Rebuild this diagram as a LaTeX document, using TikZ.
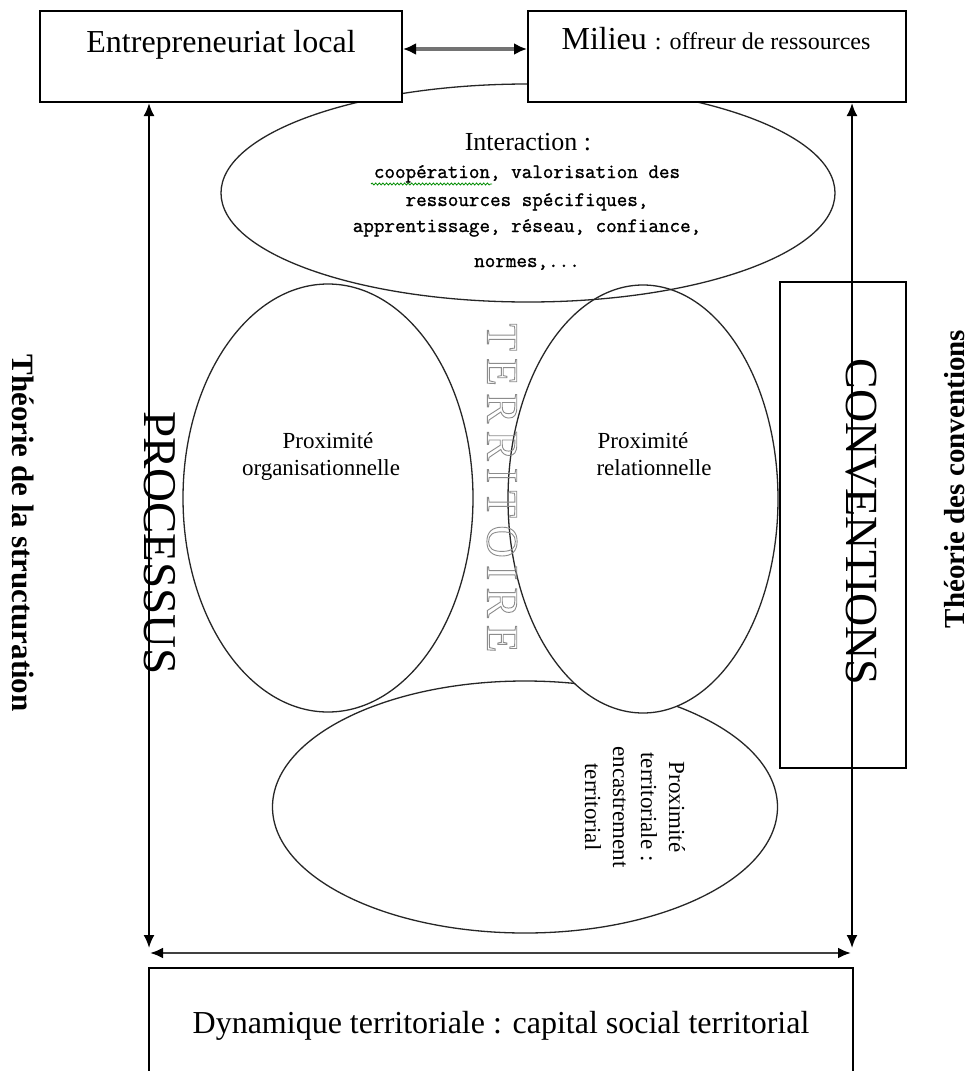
\documentclass[tikz,border=0pt]{standalone}
\usepackage{fontspec}
\setmainfont{Liberation Serif}
\newfontfamily\listfont[FakeBold=1.2]{Latin Modern Mono}
\usetikzlibrary{arrows.meta,shapes.geometric,decorations.pathmorphing}
\newcommand{\myfs}[1]{\fontsize{#1}{#1}\selectfont}
\newcommand{\myfsb}[2]{\fontsize{#1}{#2}\selectfont}
\newcommand{\terrword}{T\kern7.4pt E\kern7.4pt R\kern7.4pt R\kern7.4pt I\kern7.4pt T\kern7.4pt O\kern7.4pt I\kern7.4pt R\kern7.4pt E}
\tikzset{
  boxnode/.style={draw=black, line width=2pt, fill=white, inner sep=0pt},
  openbox/.style={draw=black, line width=1.4pt, inner sep=0pt},
  ell/.style={ellipse, draw=black!85, line width=1.3pt, inner sep=0pt},
  varrow/.style={draw=black, line width=2pt, {Latex[length=13pt,width=11pt]}-{Latex[length=13pt,width=11pt]}},
  harrow/.style={draw=black!75, line width=2.4pt, {Latex[length=13pt,width=11pt,color=black]}-{Latex[length=13pt,width=11pt,color=black]}},
  tarrow/.style={draw=black!55, line width=3.2pt, {Latex[length=13pt,width=12pt,color=black]}-{Latex[length=13pt,width=12pt,color=black]}},
  txt/.style={inner sep=0pt, anchor=base},
  listtxt/.style={inner sep=0pt, anchor=base, font=\listfont\myfs{20.5}},
}
\begin{document}
\begin{tikzpicture}[x=1pt,y=-1pt]
\clip (0,0) rectangle (971,1071);
\fill[white] (0,0) rectangle (971,1071);
% ellipses
\node[ell, minimum width=505pt, minimum height=252pt] (pterr) at (525,807) {};
\node[ell, minimum width=290pt, minimum height=428pt] (porg) at (328,498) {};
\node[ell, fill=white, minimum width=270pt, minimum height=428pt] (prel) at (643,499) {};
\node[ell, minimum width=614pt, minimum height=218pt] (inter) at (528,193) {};
% top boxes
\node[boxnode, minimum width=362pt, minimum height=91pt] (ent) at (221,56.5) {};
\node[boxnode, minimum width=378pt, minimum height=91pt] (mil) at (717,56.5) {};
% arrows
\coordinate (pl) at (149,948);
\coordinate (pr) at (852,948);
\coordinate (hl) at (150,953);
\coordinate (hr) at (851,953);
\draw[varrow] (ent.south -| pl) -- (pl);
\draw[varrow] (mil.south -| pr) -- (pr);
\draw[harrow] (hl) -- (hr);
\draw[tarrow] ([yshift=7.5pt]ent.east) -- ([yshift=7.5pt]mil.west);
% conventions box and bottom box
\node[openbox, minimum width=126pt, minimum height=486pt] (conv) at (843,525) {};
\node[boxnode, minimum width=704pt, minimum height=120pt] (dyn) at (501,1028) {};
% texts
\node[txt, font=\myfs{32}] (entT) at (221,52) {Entrepreneuriat local};
\node[txt] (milT) at (716,49) {{\myfs{32}Milieu }{\myfs{24}: offreur de ressources}};
\node[txt, font=\myfs{26}] (intT) at (528,150) {Interaction :};
\node[listtxt] (l1) at (527,178) {coopération, valorisation des};
\node[listtxt] (l2) at (527,206) {ressources spécifiques,};
\node[listtxt] (l3) at (527,232) {apprentissage, réseau, confiance,};
\node[listtxt] (l4) at (527,267) {normes,...};
\draw[green!55!black, line width=0.8pt, decorate, decoration={snake, amplitude=1pt, segment length=3.6pt}] (371,184) -- (492,184);
\node[txt, font=\myfs{23}] (po1) at (328,448) {Proximité};
\node[txt, font=\myfs{23}] (po2) at (321,475) {organisationnelle};
\node[txt, font=\myfs{23}] (pr1) at (643,448) {Proximité};
\node[txt, font=\myfs{23}] (pr2) at (654,475) {relationnelle};
\node[inner sep=0pt, rotate=-90, align=center, font=\myfsb{23}{28}] (ptT) at (635,807) {Proximité\\territoriale :\\encastrement\\territorial};
\node[inner sep=0pt, rotate=-90, font=\myfs{47}] (procT) at (160,543) {PROCESSUS};
\node[inner sep=0pt, rotate=-90, font=\myfs{46}] (convT) at (861,522) {CONVENTIONS};
\node[inner sep=0pt, rotate=-90, font=\bfseries\myfs{31}] (structT) at (23,533) {Théorie de la structuration};
\node[inner sep=0pt, rotate=90, font=\bfseries\myfs{29}] (convthT) at (955,479) {Théorie des conventions};
\node[inner sep=0pt, rotate=-90, font=\myfs{45}, text=black!45] (terrT) at (502,488) {\special{pdf:literal direct 1 Tr 0.9 w}\terrword\special{pdf:literal direct 0 Tr}};
\node[txt, font=\myfs{32}] (dynT) at (501,1033) {Dynamique territoriale : capital social territorial};
\end{tikzpicture}
\end{document}
